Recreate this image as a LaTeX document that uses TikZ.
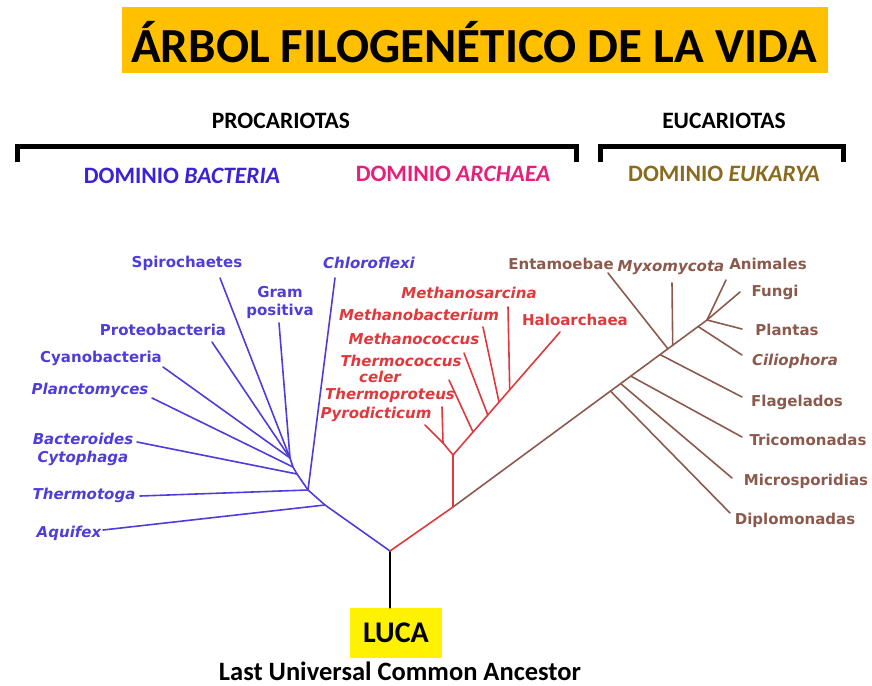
\documentclass[tikz,border=0pt]{standalone}
\usepackage{fontspec}
\setmainfont{DejaVu Sans}
\newfontfamily\calib{Carlito}
\usetikzlibrary{calc}
\definecolor{bactcol}{HTML}{4E3DDB}
\definecolor{archcol}{HTML}{E0383C}
\definecolor{eukcol}{HTML}{8C5A4C}
\definecolor{bacthead}{HTML}{3A22D6}
\definecolor{archhead}{HTML}{E61F7A}
\definecolor{eukhead}{HTML}{8A6A1E}
\definecolor{titlebg}{HTML}{FFC000}

\begin{document}
\begin{tikzpicture}[x = 1pt, y = -1pt, line cap = round,
  lab/.style = {font = \bfseries\fontsize{15}{18}\selectfont, align = center, inner sep = 0pt},
  ital/.style = {lab, font = \bfseries\itshape\fontsize{15}{18}\selectfont},
  head/.style = {font = \calib\bfseries\fontsize{23.5}{24}\selectfont, anchor = base},
  bl/.style = {draw = bactcol, line width = 1.6pt},
  rd/.style = {draw = archcol, line width = 1.6pt},
  br/.style = {draw = eukcol, line width = 1.6pt}]
\useasboundingbox (0,0) rectangle (872,685);

% title and brackets
\fill[titlebg] (122,7) rectangle (828,73);
\node[anchor = base, font = \calib\bfseries\fontsize{49}{50}\selectfont] (title) at (474,63) {ÁRBOL FILOGENÉTICO DE LA VIDA};
\node[head] (proc) at (281,128) {PROCARIOTAS};
\node[head] (euca) at (724,128) {EUCARIOTAS};
\draw[line width = 5pt, line cap = butt] (17,162) -- (17,146) -- (576,146) -- (576,162);
\draw[line width = 5pt, line cap = butt] (600,162) -- (600,146) -- (843,146) -- (843,162);
\node[head, bacthead] (dbac) at (182,183) {DOMINIO \textit{BACTERIA}};
\node[head, archhead] (darc) at (453,181) {DOMINIO \textit{ARCHAEA}};
\node[head, eukhead] (deuk) at (724,181) {DOMINIO \textit{EUKARYA}};

% LUCA
\node[fill = yellow, minimum width = 92, minimum height = 50, inner sep = 0pt,
  font = \calib\bfseries\fontsize{30}{32}\selectfont] (luca) at (396,633) {LUCA};
\node[anchor = base, font = \calib\bfseries\fontsize{26.5}{28}\selectfont] (lucb) at (400,680) {Last Universal Common Ancestor};
\coordinate (root) at (390,551);
\draw[line width = 1.6pt] (luca.north -| root) -- (root);

% bacteria
\coordinate (bA) at (325,505);
\coordinate (bT) at (308,490);
\coordinate (bB) at (297,474);
\coordinate (bP) at (293,467);
\coordinate (bH) at (290,458);
\coordinate (aqE) at (103,530);
\coordinate (thE) at (140,496);
\coordinate (chE) at (335,278);
\coordinate (bcE) at (137,442);
\coordinate (plE) at (152,398);
\coordinate (cyE) at (163,367);
\coordinate (prE) at (212,342);
\coordinate (spE) at (220,278);
\coordinate (grE) at (279,323);
\draw[bl] (root) -- (bA) -- (bT) -- (bB) -- (bP) -- (bH);
\draw[bl] (bA) -- (aqE);
\draw[bl] (bT) -- (thE);
\draw[bl] (bT) -- (chE);
\draw[bl] (bB) -- (bcE);
\draw[bl] (bP) -- (plE);
\draw[bl] (bH) -- (cyE);
\draw[bl] (bH) -- (prE);
\draw[bl] (bH) -- (spE);
\draw[bl] (bH) -- (grE);
\node[lab, bactcol] (spiro) at (187,263) {Spirochaetes};
\node[lab, bactcol] (gram) at (280,302) {Gram\\positiva};
\node[ital, bactcol] (chloro) at (369,263) {Chloroflexi};
\node[lab, bactcol] (proteo) at (163,330) {Proteobacteria};
\node[lab, bactcol] (cyano) at (101,358) {Cyanobacteria};
\node[ital, bactcol] (plancto) at (90,390) {Planctomyces};
\node[ital, bactcol] (bactero) at (83,449) {Bacteroides\\Cytophaga};
\node[ital, bactcol] (thermo) at (84,495) {Thermotoga};
\node[ital, bactcol] (aqui) at (69,533) {Aquifex};

% archaea
\coordinate (S) at (453,507);
\coordinate (A1) at (453,455);
\coordinate (pyJ) at (443,443);
\coordinate (pyE) at (425,425);
\coordinate (tpE) at (442,407);
\coordinate (haE) at (560,332);
\coordinate (tcJ) at ($(A1)!0.187!(haE)$);
\coordinate (mcJ) at ($(A1)!0.325!(haE)$);
\coordinate (mbJ) at ($(A1)!0.43!(haE)$);
\coordinate (msJ) at ($(A1)!0.53!(haE)$);
\coordinate (tcE) at (449,380);
\coordinate (mcE) at (464,353);
\coordinate (mbE) at (483,327);
\coordinate (msE) at (508,307);
\draw[rd] (root) -- (S) -- (A1) -- (pyJ) -- (pyE);
\draw[rd] (pyJ) -- (tpE);
\draw[rd] (A1) -- (haE);
\draw[rd] (tcJ) -- (tcE);
\draw[rd] (mcJ) -- (mcE);
\draw[rd] (mbJ) -- (mbE);
\draw[rd] (msJ) -- (msE);
\node[ital, archcol] (msarc) at (469,293) {Methanosarcina};
\node[ital, archcol] (mbact) at (419,315) {Methanobacterium};
\node[ital, archcol] (mcocc) at (414,339) {Methanococcus};
\node[ital, archcol] (tcocc) at (401,361) {Thermococcus};
\node[ital, archcol] (celer) at (380,377) {celer};
\node[ital, archcol] (tprot) at (390,395) {Thermoproteus};
\node[ital, archcol] (pyro) at (376,414) {Pyrodicticum};
\node[lab, archcol] (halo) at (575,320) {Haloarchaea};

% eukarya
\coordinate (euE) at (707,320);
\coordinate (dpJ) at ($(S)!0.62!(euE)$);
\coordinate (miJ) at ($(S)!0.66!(euE)$);
\coordinate (trJ) at ($(S)!0.70!(euE)$);
\coordinate (flJ) at ($(S)!0.815!(euE)$);
\coordinate (enJ) at ($(S)!0.846!(euE)$);
\coordinate (myJ) at ($(S)!0.865!(euE)$);
\coordinate (ciJ) at ($(S)!0.965!(euE)$);
\coordinate (dpE) at (730,513);
\coordinate (miE) at (732,478);
\coordinate (trE) at (742,437);
\coordinate (flE) at (742,397);
\coordinate (enE) at (608,273);
\coordinate (myE) at (672,283);
\coordinate (ciE) at (742,355);
\coordinate (plaE) at (742,329);
\coordinate (fuE) at (740,292);
\coordinate (anE) at (726,280);
\draw[br] (S) -- (euE);
\draw[br] (dpJ) -- (dpE);
\draw[br] (miJ) -- (miE);
\draw[br] (trJ) -- (trE);
\draw[br] (flJ) -- (flE);
\draw[br] (enJ) -- (enE);
\draw[br] (myJ) -- (myE);
\draw[br] (ciJ) -- (ciE);
\draw[br] (euE) -- (plaE);
\draw[br] (euE) -- (fuE);
\draw[br] (euE) -- (anE);
\node[lab, eukcol] (entam) at (561,264) {Entamoebae};
\node[ital, eukcol] (myxo) at (671,268) {Myxomycota};
\node[lab, eukcol] (anim) at (768,264) {Animales};
\node[lab, eukcol] (fungi) at (775,292) {Fungi};
\node[lab, eukcol] (plant) at (787,330) {Plantas};
\node[ital, eukcol] (cilio) at (795,361) {Ciliophora};
\node[lab, eukcol] (flag) at (797,402) {Flagelados};
\node[lab, eukcol] (trico) at (808,440) {Tricomonadas};
\node[lab, eukcol] (micro) at (806,481) {Microsporidias};
\node[lab, eukcol] (diplo) at (795,520) {Diplomonadas};

\end{tikzpicture}
\end{document}
